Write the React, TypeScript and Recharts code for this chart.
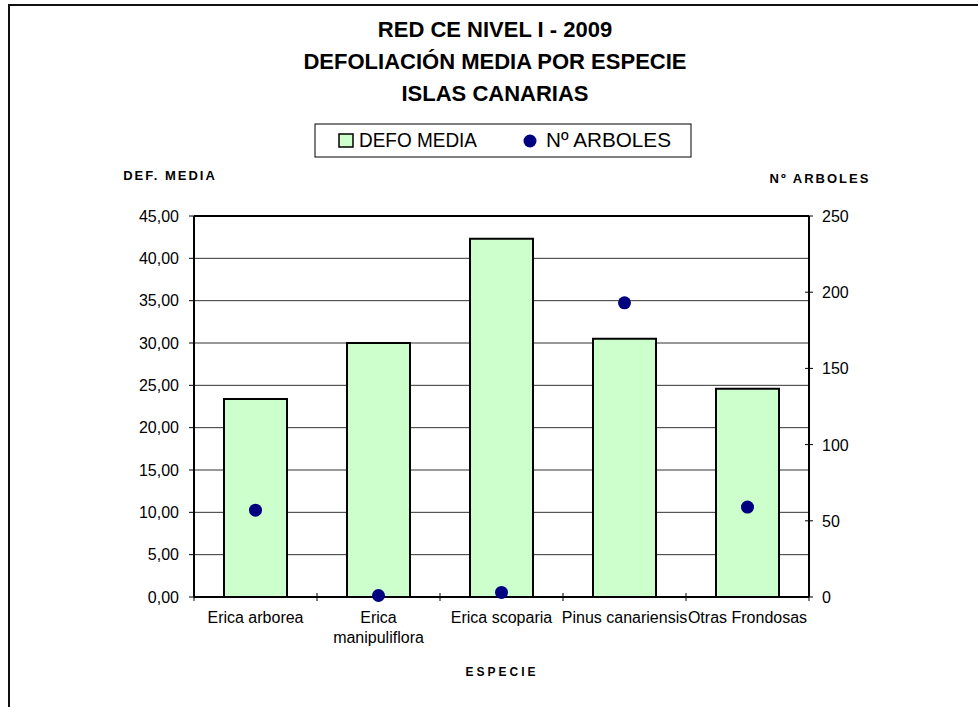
import {
  Bar,
  CartesianGrid,
  ComposedChart,
  Legend,
  ReferenceLine,
  Scatter,
  XAxis,
  YAxis,
} from 'recharts';

const categories = [
  'Erica arborea',
  'Erica manipuliflora',
  'Erica scoparia',
  'Pinus canariensis',
  'Otras Frondosas',
];
const defoMedia = [23.4, 30.0, 42.3, 30.5, 24.6];
const numArboles = [57, 1, 3, 193, 59];

const leftTicks = [0, 5, 10, 15, 20, 25, 30, 35, 40, 45];
const rightTicks = [0, 50, 100, 150, 200, 250];

const titleLines = ['RED CE NIVEL I - 2009', 'DEFOLIACIÓN MEDIA POR ESPECIE', 'ISLAS CANARIAS'];

const FONT = '"Liberation Sans", Arial, sans-serif';
const BAR_FILL = '#ccffcc';
const DOT_FILL = '#000080';

const data = categories.map((name, i) => ({
  name,
  defo: defoMedia[i],
  arboles: numArboles[i],
}));

const fmtLeft = (v: number) => v.toFixed(2).replace('.', ',');

// category label (long names on two lines) + tick marks on the category edges
const CategoryTick = (props: any) => {
  const { x, y, payload, index, visibleTicksCount, width } = props;
  const half = payload.offset || width / visibleTicksCount / 2;
  const label: string = payload.value;
  const sp = label.indexOf(' ');
  const lines = label.length > 17 ? [label.slice(0, sp), label.slice(sp + 1)] : [label];
  return (
    <g>
      <line x1={x - half} x2={x - half} y1={y - 4} y2={y + 4} stroke="#000" />
      {index === visibleTicksCount - 1 && (
        <line x1={x + half} x2={x + half} y1={y - 4} y2={y + 4} stroke="#000" />
      )}
      <text x={x} y={y} textAnchor="middle" fontSize={16} fontFamily={FONT} fill="#000">
        {lines.map((l, i) => (
          <tspan key={i} x={x} dy={i === 0 ? 26 : 20}>
            {l}
          </tspan>
        ))}
      </text>
    </g>
  );
};

const RightTick = (props: any) => {
  const { x, y, payload } = props;
  return (
    <g>
      <line x1={x - 4} x2={x + 4} y1={y} y2={y} stroke="#000" />
      <text x={x + 13} y={y} dy={6} fontSize={16} fontFamily={FONT} fill="#000">
        {payload.value}
      </text>
    </g>
  );
};

const LegendBox = () => (
  <svg width={380} height={36} style={{ display: 'block' }}>
    <rect x={1} y={1} width={376} height={33} fill="#fff" stroke="#000" strokeWidth={1} />
    <rect x={25} y={11} width={14} height={13} fill={BAR_FILL} stroke="#000" strokeWidth={1.5} />
    <text x={45} y={24} fontSize={21} fontFamily={FONT} textLength={118} lengthAdjust="spacingAndGlyphs">
      DEFO MEDIA
    </text>
    <circle cx={216} cy={18} r={6.5} fill={DOT_FILL} />
    <text x={232} y={24} fontSize={21} fontFamily={FONT} textLength={125} lengthAdjust="spacingAndGlyphs">
      Nº ARBOLES
    </text>
  </svg>
);

export default function App() {
  return (
    <div style={{ position: 'relative', width: 978, height: 707, overflow: 'hidden', background: '#fff' }}>
      <style>{'body{margin:0}'}</style>
      <div
        style={{
          position: 'absolute',
          left: 8,
          top: 4,
          width: 1000,
          height: 1000,
          border: '2px solid #111',
        }}
      />
      <ComposedChart
        width={978}
        height={707}
        data={data}
        margin={{ top: 216, right: 109, bottom: 50, left: 114 }}
        style={{ position: 'absolute', left: 0, top: 0 }}
      >
        <CartesianGrid vertical={false} stroke="#333" strokeWidth={1} yAxisId="left" />
        <XAxis
          xAxisId="cat"
          dataKey="name"
          height={60}
          interval={0}
          axisLine={{ stroke: '#000', strokeWidth: 2 }}
          tickLine={false}
          tickSize={0}
          tickMargin={0}
          tick={<CategoryTick />}
        />
        <YAxis
          yAxisId="left"
          domain={[0, 45]}
          ticks={leftTicks}
          width={80}
          tickFormatter={fmtLeft}
          axisLine={{ stroke: '#000', strokeWidth: 2 }}
          tickLine={{ stroke: '#000' }}
          tickSize={5}
          tickMargin={10}
          tick={{ fontSize: 16, fontFamily: FONT, fill: '#000' }}
        />
        <YAxis
          yAxisId="right"
          orientation="right"
          domain={[0, 250]}
          ticks={rightTicks}
          width={60}
          axisLine={{ stroke: '#000', strokeWidth: 2 }}
          tickLine={false}
          tickSize={0}
          tickMargin={0}
          tick={<RightTick />}
        />
        <ReferenceLine yAxisId="left" xAxisId="cat" y={45} stroke="#000" strokeWidth={2} />
        <Bar
          xAxisId="cat"
          yAxisId="left"
          dataKey="defo"
          name="DEFO MEDIA"
          fill={BAR_FILL}
          stroke="#000"
          strokeWidth={2}
          barSize={63}
          isAnimationActive={false}
        />
        <Scatter
          xAxisId="cat"
          yAxisId="right"
          dataKey="arboles"
          name="Nº ARBOLES"
          isAnimationActive={false}
          shape={(p: any) => <circle cx={p.cx} cy={p.cy} r={6.5} fill={DOT_FILL} />}
        />
        <Legend
          layout="horizontal"
          verticalAlign="middle"
          align="center"
          content={<LegendBox />}
          wrapperStyle={{ position: 'absolute', left: 314, top: 123, width: 380, height: 36 }}
        />
      </ComposedChart>
      <svg
        width={978}
        height={707}
        style={{ position: 'absolute', left: 0, top: 0, pointerEvents: 'none' }}
        fontFamily={FONT}
      >
        {titleLines.map((t, i) => (
          <text key={t} x={495} y={37 + i * 32} textAnchor="middle" fontSize={22} fontWeight="bold">
            {t}
          </text>
        ))}
        <text x={170} y={180} textAnchor="middle" fontSize={13} fontWeight="bold" letterSpacing={2}>
          DEF. MEDIA
        </text>
        <text x={820} y={183} textAnchor="middle" fontSize={13} fontWeight="bold" letterSpacing={2}>
          Nº ARBOLES
        </text>
        <text x={502} y={676} textAnchor="middle" fontSize={12} fontWeight="bold" letterSpacing={3}>
          ESPECIE
        </text>
      </svg>
    </div>
  );
}
